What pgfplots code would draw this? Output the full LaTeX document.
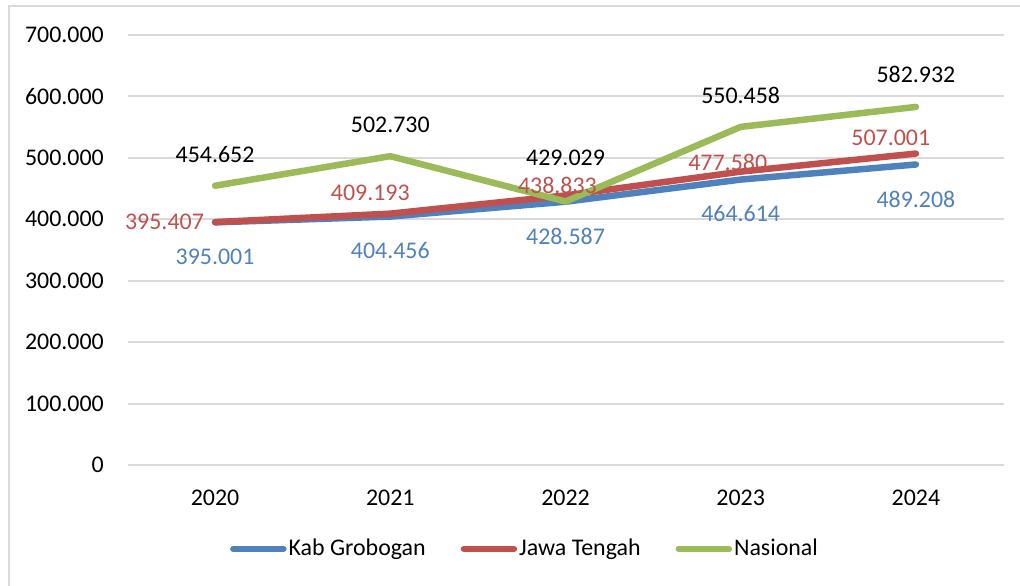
\documentclass[border=0pt]{standalone}
\usepackage{fontspec}
\setmainfont{Carlito}
\usepackage{pgfplots}
\pgfplotsset{compat=1.18}
\definecolor{cblue}{HTML}{4F81BD}
\definecolor{cred}{HTML}{C0504D}
\definecolor{cgreen}{HTML}{9BBB59}
\definecolor{cgrid}{HTML}{D9D9D9}
\begin{document}
\fontsize{24}{28}\selectfont
\begin{tikzpicture}
\useasboundingbox (0,0) rectangle (1020bp,586bp);
\draw[cgrid, line width=1.5bp] (9bp,-2bp) -- (9bp,580bp) -- (1022bp,580bp);
\begin{axis}[
  at={(127.5bp,121bp)}, anchor=south west,
  scale only axis, width=876bp, height=430bp,
  xmin=-0.5, xmax=4.5, ymin=0, ymax=700000,
  xtick={0,1,2,3,4}, xticklabels={2020,2021,2022,2023,2024},
  ytick={0,100000,200000,300000,400000,500000,600000,700000},
  yticklabels={0,100.000,200.000,300.000,400.000,500.000,600.000,700.000},
  scaled y ticks=false,
  axis line style={draw=none}, tick style={draw=none},
  ymajorgrids, grid style={line width=2bp, cgrid},
  /pgf/number format/assume math mode=true,
  yticklabel style={anchor=east, inner sep=0pt, xshift=-23.5bp, font=\fontsize{24}{28}\selectfont},
  xticklabel style={anchor=north, inner sep=0pt, yshift=-24.5bp, font=\fontsize{24}{28}\selectfont},
  clip=false,
  every axis plot/.append style={line width=6.5bp, line cap=round, line join=round},
  legend columns=3,
  legend style={at={(0.4538,-0.1953)}, anchor=center, draw=none, fill=none,
    font=\fontsize{24}{28}\selectfont, inner sep=0pt,
    /tikz/every even column/.append style={column sep=33bp}},
  legend cell align=left,
  legend image code/.code={\draw[#1, line width=6.5bp, line cap=round] (0bp,0bp) -- (50bp,0bp);},
]
\addplot[cblue] coordinates {(0,395001) (1,404456) (2,428587) (3,464614) (4,489208)};
\addlegendentry{Kab Grobogan}
\addplot[cred] coordinates {(0,395407) (1,409193) (2,438833) (3,477580) (4,507001)};
\addlegendentry{Jawa Tengah}
\addplot[cgreen] coordinates {(0,454652) (1,502730) (2,429029) (3,550458) (4,582932)};
\addlegendentry{Nasional}
% Nasional labels
\node[black] at (axis cs:0,504650) {454.652};
\node[black] at (axis cs:1,553490) {502.730};
\node[black] at (axis cs:2,499770) {429.029};
\node[black] at (axis cs:3,602320) {550.458};
\node[black] at (axis cs:4,636500) {582.932};
% Jawa Tengah labels
\node[cred, anchor=east, inner xsep=0pt] at (axis cs:-0.063,395580) {395.407};
\node[cred] at (axis cs:0.886,442790) {409.193};
\node[cred] at (axis cs:1.954,455810) {438.833};
\node[cred] at (axis cs:2.926,493250) {477.580};
\node[cred] at (axis cs:3.857,532320) {507.001};
% Kab Grobogan labels
\node[cblue] at (axis cs:0,338600) {395.001};
\node[cblue] at (axis cs:1,348370) {404.456};
\node[cblue] at (axis cs:2,372790) {428.587};
\node[cblue] at (axis cs:3,408600) {464.614};
\node[cblue] at (axis cs:4,433020) {489.208};
\end{axis}
\end{tikzpicture}
\end{document}
